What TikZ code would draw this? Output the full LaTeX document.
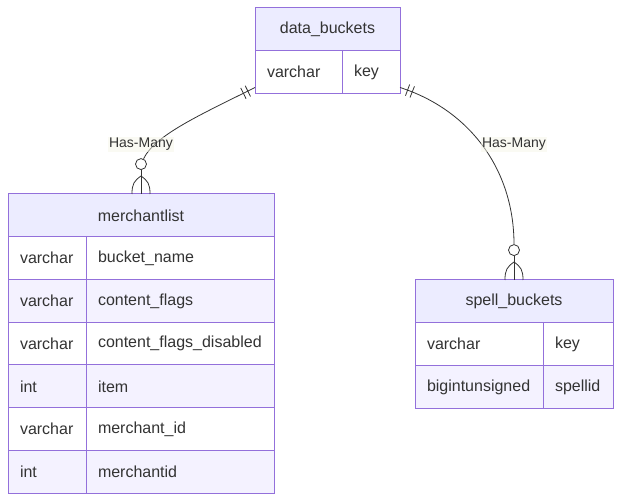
\documentclass[tikz,border=0pt]{standalone}
\usepackage{fontspec}
\setmainfont{Liberation Sans}
\usepackage{xcolor}
\usepackage{tikz}
\usetikzlibrary{positioning,calc,decorations.markings}
\definecolor{erborder}{HTML}{9370DB}
\definecolor{erhead}{HTML}{ECECFF}
\definecolor{erodd}{HTML}{FFFFFF}
\definecolor{ereven}{HTML}{F4F2FF}
\definecolor{ertext}{HTML}{333333}
\definecolor{erlabel}{HTML}{F6F6E8}
\tikzset{
  tblhead/.style={
    draw=erborder,fill=erhead,line width=1pt,outer sep=0pt,
    inner xsep=12pt,inner ysep=0pt,minimum height=42.75pt,
    text width=#1,align=center,text=ertext,
    font=\fontsize{16}{19}\selectfont
  },
  tblcell/.style={
    draw=erborder,fill=erodd,line width=1pt,outer sep=0pt,
    inner xsep=12pt,inner ysep=0pt,minimum height=42.75pt,
    text width=#1,align=left,text=ertext,
    font=\fontsize{16}{19}\selectfont
  },
  tblcellalt/.style={tblcell=#1,fill=ereven},
  relline/.style={draw=ertext,line width=.8pt},
  onebar/.style={
    postaction={decorate},
    decoration={markings,
      mark=at position 8pt with {\draw[relline] (0,-6pt)--(0,6pt);},
      mark=at position 13pt with {\draw[relline] (0,-6pt)--(0,6pt);}}
  },
  zeromark/.style={circle,draw=ertext,fill=white,line width=.8pt,
    minimum size=11pt,inner sep=0pt},
  rellabel/.style={fill=erlabel,fill opacity=.5,text opacity=1,
    text=ertext,inner sep=1pt,font=\fontsize{14}{16}\selectfont}
}
\begin{document}
\begin{tikzpicture}[x=1pt,y=-1pt]
\useasboundingbox (0,0) rectangle (622,502);

% data_buckets
\node[tblhead=121pt,anchor=north west] (db-head) at (255,8) {data\_buckets};
\node[tblcell=63pt,below right=0pt and 0pt of db-head.south west] (db-t1) {varchar};
\node[tblcell=34pt,right=0pt of db-t1] (db-n1) {key};

% merchantlist
\node[tblhead=242pt,anchor=north west] (ml-head) at (8,194) {merchantlist};
\node[tblcell=54pt,below right=0pt and 0pt of ml-head.south west] (ml-t1) {varchar};
\node[tblcell=164pt,right=0pt of ml-t1] (ml-n1) {bucket\_name};
\node[tblcellalt=54pt,below=0pt of ml-t1] (ml-t2) {varchar};
\node[tblcellalt=164pt,right=0pt of ml-t2] (ml-n2) {content\_flags};
\node[tblcell=54pt,below=0pt of ml-t2] (ml-t3) {varchar};
\node[tblcell=164pt,right=0pt of ml-t3] (ml-n3) {content\_flags\_disabled};
\node[tblcellalt=54pt,below=0pt of ml-t3] (ml-t4) {int};
\node[tblcellalt=164pt,right=0pt of ml-t4] (ml-n4) {item};
\node[tblcell=54pt,below=0pt of ml-t4] (ml-t5) {varchar};
\node[tblcell=164pt,right=0pt of ml-t5] (ml-n5) {merchant\_id};
\node[tblcellalt=54pt,below=0pt of ml-t5] (ml-t6) {int};
\node[tblcellalt=164pt,right=0pt of ml-t6] (ml-n6) {merchantid};

% spell_buckets
\node[tblhead=174pt,anchor=north west] (sb-head) at (415,280) {spell\_buckets};
\node[tblcell=104pt,below right=0pt and 0pt of sb-head.south west] (sb-t1) {varchar};
\node[tblcell=46pt,right=0pt of sb-t1] (sb-n1) {key};
\node[tblcellalt=104pt,below=0pt of sb-t1] (sb-t2) {bigintunsigned};
\node[tblcellalt=46pt,right=0pt of sb-t2] (sb-n2) {spellid};

% relations
\coordinate (dbleft) at ($(db-t1.south west)+(0,-6)$);
\coordinate (dbright) at ($(db-n1.south east)+(0,-6)$);
\node[zeromark,above=24pt of ml-head.north] (mlzero) {};
\node[zeromark,above=24pt of sb-head.north] (sbzero) {};

\draw[relline,onebar] (dbleft) .. controls (200,115) and (155,135) .. (mlzero);
\draw[relline,onebar] (dbright) .. controls (470,110) and (514,170) .. (sbzero);

\draw[relline] (mlzero.south) -- (ml-head.north);
\coordinate (mlfoot) at ($(ml-head.north)+(0,-18)$);
\draw[relline] (mlfoot) .. controls +(-7,5) and +(0,-10) .. ($(ml-head.north)+(-9,0)$);
\draw[relline] (mlfoot) .. controls +(7,5) and +(0,-10) .. ($(ml-head.north)+(9,0)$);

\draw[relline] (sbzero.south) -- (sb-head.north);
\coordinate (sbfoot) at ($(sb-head.north)+(0,-18)$);
\draw[relline] (sbfoot) .. controls +(-7,5) and +(0,-10) .. ($(sb-head.north)+(-9,0)$);
\draw[relline] (sbfoot) .. controls +(7,5) and +(0,-10) .. ($(sb-head.north)+(9,0)$);

\node[rellabel] (mllabel) at (141,144.5) {Has-Many};
\node[rellabel] (sblabel) at (514,144.5) {Has-Many};
\end{tikzpicture}
\end{document}
